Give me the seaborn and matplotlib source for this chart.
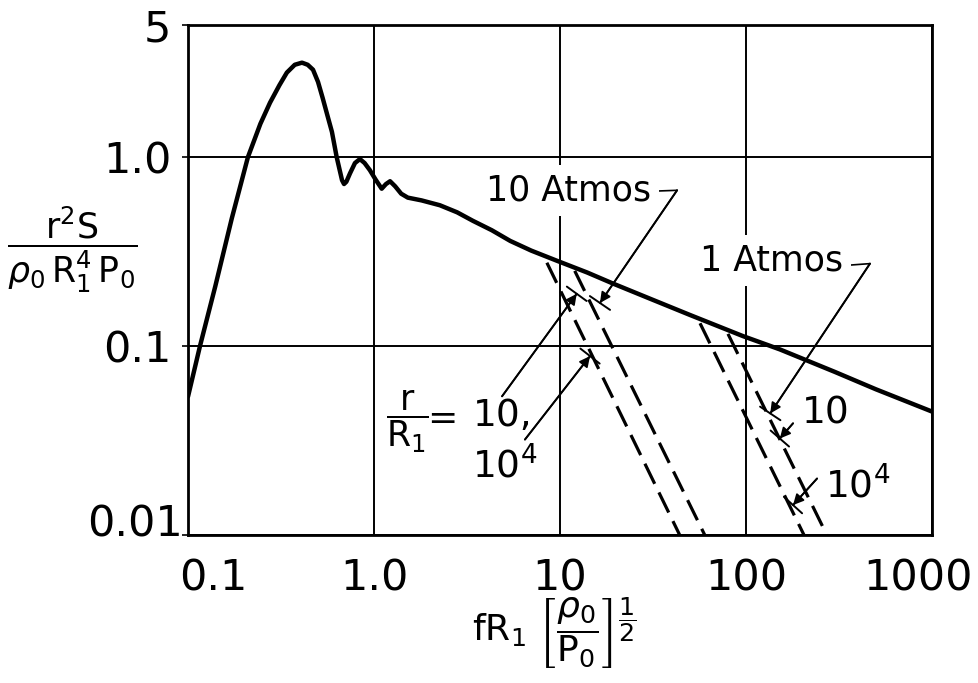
import matplotlib.pyplot as plt
import seaborn as sns
import pandas as pd
from matplotlib.ticker import NullLocator
from matplotlib.transforms import ScaledTranslation

# solid curve
freq = [0.1, 0.116, 0.14, 0.172, 0.21, 0.245, 0.276, 0.31, 0.34, 0.375, 0.41, 0.44,
        0.47, 0.50, 0.53, 0.56, 0.594, 0.63, 0.673, 0.69, 0.71, 0.743, 0.79, 0.84,
        0.89, 0.95, 1.02, 1.10, 1.16, 1.22, 1.30, 1.40, 1.52, 1.8, 2.26, 2.8, 3.4,
        4.3, 5.4, 7.0, 9.6, 14, 19.3, 30.5, 50, 96, 152, 300, 500, 1000]
spec = [0.054, 0.1, 0.206, 0.474, 1.0, 1.5, 1.94, 2.4, 2.8, 3.08, 3.16, 3.08,
        2.9, 2.5, 2.05, 1.68, 1.36, 1.0, 0.755, 0.72, 0.74, 0.82, 0.93, 0.976,
        0.93, 0.853, 0.76, 0.68, 0.72, 0.745, 0.70, 0.64, 0.61, 0.59, 0.556, 0.51, 0.46,
        0.41, 0.36, 0.32, 0.283, 0.245, 0.214, 0.178, 0.146, 0.113, 0.096, 0.073, 0.059, 0.045]

# dashed lines (start, end) : 10 Atmos pair and 1 Atmos pair
dash_x = [[8.5, 44], [12.0, 60], [56.6, 205], [80, 272]]
dash_y = [[0.276, 0.01], [0.25, 0.01], [0.132, 0.01], [0.116, 0.01]]

xticks = [0.1, 1, 10, 100, 1000]
xtick_labels = ['0.1', '1.0', '10', '100', '1000']
yticks = [0.01, 0.1, 1, 5]
ytick_labels = ['0.01', '0.1', '1.0', '5']

sns.set_theme(style='white')
plt.rcParams['font.family'] = ['DejaVu Sans']
plt.rcParams['mathtext.fontset'] = 'dejavusans'
plt.rcParams.update({'text.color': 'black', 'axes.labelcolor': 'black',
                     'xtick.color': 'black', 'ytick.color': 'black'})

fig = plt.figure(figsize=(9.79, 6.83), dpi=100)
ax = fig.add_axes([188 / 979, 1 - 535 / 683, 744 / 979, 510 / 683])
ax.set_xscale('log')
ax.set_yscale('log')

curve = pd.DataFrame({'f': freq, 's': spec})
sns.lineplot(data=curve, x='f', y='s', ax=ax, color='black', lw=3.2, estimator=None)

for xs, ys in zip(dash_x, dash_y):
    sns.lineplot(x=xs, y=ys, ax=ax, color='black', lw=2.3, estimator=None)
    ax.lines[-1].set_dashes((7, 3))

ax.set_xlim(0.1, 1000)
ax.set_ylim(0.01, 5)
ax.set_xticks(xticks)
ax.set_xticklabels(xtick_labels)
ax.set_yticks(yticks)
ax.set_yticklabels(ytick_labels)
ax.xaxis.set_minor_locator(NullLocator())
ax.yaxis.set_minor_locator(NullLocator())
ax.tick_params(axis='x', length=0, pad=16, labelsize=31, labelcolor='black')
ax.tick_params(axis='y', length=4, width=1.2, pad=8, labelsize=31, labelcolor='black',
               color='black', left=True, direction='out')

ax.set_axisbelow(True)
ax.grid(True, which='major', color='black', lw=1.4)
for sp in ax.spines.values():
    sp.set_color('black')
    sp.set_linewidth(2)

# corner labels nudged like the original
lab = ax.get_xticklabels()[0]
lab.set_transform(lab.get_transform() + ScaledTranslation(0.25, 0, fig.dpi_scale_trans))
lab = ax.get_xticklabels()[-1]
lab.set_transform(lab.get_transform() + ScaledTranslation(-0.14, 0, fig.dpi_scale_trans))
lab = ax.get_yticklabels()[0]
lab.set_transform(lab.get_transform() + ScaledTranslation(0.12, 0.15, fig.dpi_scale_trans))

ax.set_ylabel(r'$\dfrac{\mathrm{r^2 S}}{\rho_0\,\mathrm{R_1^4\,P_0}}$', rotation=0,
              fontsize=25, ha='center', va='center', color='black')
ax.yaxis.set_label_coords(-0.156, 0.56)
ax.set_xlabel(r'$\mathrm{fR_1}\ \left[\dfrac{\rho_0}{\mathrm{P_0}}\right]^{\dfrac{1}{2}}$',
              fontsize=26, color='black', va='top')
ax.xaxis.set_label_coords(0.493, -0.118)

white = dict(facecolor='white', edgecolor='none', pad=6)
arrow = dict(arrowstyle='-|>', color='black', lw=1.2, mutation_scale=16, shrinkA=0, shrinkB=0)
bar = dict(arrowstyle='-[, widthB=0.55, lengthB=0', color='black', lw=1.4,
           mutation_scale=16, shrinkA=0, shrinkB=0)


def leader(tip, tail):
    ax.annotate('', xy=tip, xytext=tail, arrowprops=arrow)
    ax.annotate('', xy=tip, xytext=tail, arrowprops=bar)


# 10 Atmos
ax.text(30.8, 0.667, '10 Atmos', fontsize=25, ha='right', va='center', bbox=white, zorder=3)
ax.plot([31.6, 42.6], [0.66, 0.667], color='black', lw=1.2)
leader((16.4, 0.169), (42.6, 0.667))

# r/R1 = 10, 10^4
ax.text(1.52, 0.040, r'$\dfrac{\mathrm{r}}{\mathrm{R_1}}$', fontsize=25, ha='center', va='center')
ax.text(2.33, 0.041, '=', fontsize=26, ha='center', va='center')
ax.text(3.41, 0.0425, '10,', fontsize=27, ha='left', va='center')
ax.text(3.37, 0.0233, r'10$^{4}$', fontsize=27, ha='left', va='center')
leader((12.3, 0.189), (4.88, 0.0542))
leader((14.5, 0.0885), (6.48, 0.032))

# 1 Atmos
ax.text(56.6, 0.283, '1 Atmos', fontsize=25, ha='left', va='center', bbox=white, zorder=3)
ax.plot([341, 464], [0.267, 0.273], color='black', lw=1.2)
leader((135, 0.044), (464, 0.273))
ax.text(200, 0.044, '10', fontsize=27, ha='left', va='center')
leader((152, 0.0324), (179, 0.039))
ax.text(266, 0.0182, r'10$^{4}$', fontsize=27, ha='left', va='center')
leader((179, 0.0144), (241, 0.0199))

fig.savefig('out.png', dpi=100)
